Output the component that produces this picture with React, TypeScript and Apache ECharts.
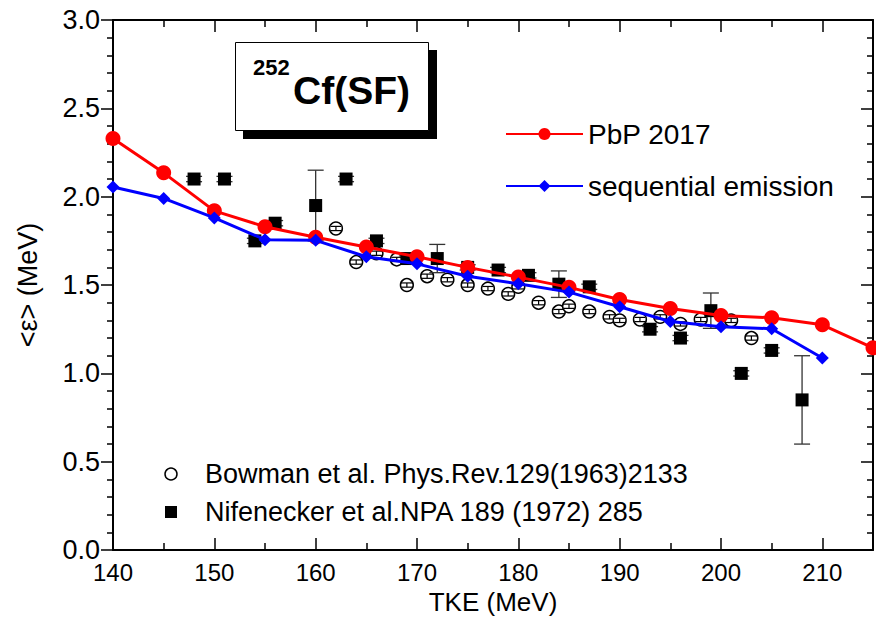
import React, { useEffect, useRef } from "react";
import * as echarts from "echarts";

// PbP 2017 (red circles)
const pbpX = [140, 145, 150, 155, 160, 165, 170, 175, 180, 185, 190, 195, 200, 205, 210, 215];
const pbpY = [2.33, 2.135, 1.92, 1.83, 1.77, 1.715, 1.66, 1.6, 1.545, 1.487, 1.418, 1.367, 1.328, 1.315, 1.275, 1.145];

// sequential emission (blue diamonds)
const seqX = [140, 145, 150, 155, 160, 165, 170, 175, 180, 185, 190, 195, 200, 205, 210];
const seqY = [2.055, 1.99, 1.88, 1.757, 1.753, 1.66, 1.62, 1.55, 1.507, 1.46, 1.377, 1.294, 1.264, 1.253, 1.087];

// Bowman et al. (open circles)
const bowX = [162, 164, 166, 168, 169, 171, 173, 175, 177, 179, 180, 182, 184, 185, 187, 189, 190, 192, 194, 196, 198, 201, 203];
const bowY = [1.82, 1.63, 1.68, 1.645, 1.5, 1.55, 1.53, 1.5, 1.48, 1.45, 1.49, 1.4, 1.35, 1.38, 1.35, 1.32, 1.3, 1.305, 1.32, 1.28, 1.305, 1.3, 1.2];
const bowErr = [0.012, 0.012, 0.012, 0.012, 0.012, 0.012, 0.012, 0.012, 0.012, 0.012, 0.012, 0.012, 0.012, 0.012, 0.012, 0.012, 0.012, 0.012, 0.012, 0.012, 0.012, 0.012, 0.012];

// Nifenecker et al. (filled squares)
const nifX = [148, 151, 154, 156, 160, 163, 166, 169, 172, 175, 178, 181, 184, 187, 193, 196, 199, 202, 205, 208];
const nifY = [2.1, 2.1, 1.75, 1.85, 1.95, 2.1, 1.75, 1.65, 1.65, 1.6, 1.585, 1.555, 1.505, 1.49, 1.25, 1.2, 1.355, 1.0, 1.13, 0.85];
const nifErr = [0.015, 0.015, 0.015, 0.015, 0.2, 0.015, 0.015, 0.015, 0.08, 0.015, 0.015, 0.015, 0.075, 0.015, 0.015, 0.015, 0.1, 0.015, 0.015, 0.25];

const seriesNames = ["PbP 2017", "sequential emission"];
const expNames = ["Bowman et al. Phys.Rev.129(1963)2133", "Nifenecker et al.NPA 189 (1972) 285"];
const xTitle = "TKE (MeV)";
const yTitle = "<ε> (MeV)";

const FONT = "'Liberation Sans', Arial, Helvetica, sans-serif";

export default function App() {
  const ref = useRef<HTMLDivElement>(null);

  useEffect(() => {
    if (!ref.current) return;
    const chart = echarts.init(ref.current, null, { renderer: "svg" });

    const pbpData = pbpX.map((x, i) => [x, pbpY[i]]);
    const seqData = seqX.map((x, i) => [x, seqY[i]]);
    const bowData = bowX.map((x, i) => [x, bowY[i], bowErr[i]]);
    const nifData = nifX.map((x, i) => [x, nifY[i], nifErr[i]]);

    const errBar = (api: any, x: number, y: number, e: number, capW: number, stroke: string, lw: number) => {
      const lo = api.coord([x, y - e]);
      const hi = api.coord([x, y + e]);
      return [
        { type: "line", shape: { x1: lo[0], y1: lo[1], x2: hi[0], y2: hi[1] }, style: { stroke, lineWidth: lw } },
        { type: "line", shape: { x1: lo[0] - capW / 2, y1: lo[1], x2: lo[0] + capW / 2, y2: lo[1] }, style: { stroke, lineWidth: lw } },
        { type: "line", shape: { x1: hi[0] - capW / 2, y1: hi[1], x2: hi[0] + capW / 2, y2: hi[1] }, style: { stroke, lineWidth: lw } },
      ];
    };

    const majorTick = { show: true, inside: true, length: 12, lineStyle: { color: "#000", width: 1.5 } };

    chart.setOption({
      animation: false,
      backgroundColor: "#fff",
      grid: { left: 113, right: 3, top: 20, bottom: 68, containLabel: false },
      xAxis: [
        {
          type: "value",
          min: 140,
          max: 215,
          interval: 10,
          position: "bottom",
          name: xTitle,
          nameLocation: "middle",
          nameGap: 36,
          nameTextStyle: { fontFamily: FONT, fontSize: 26, color: "#000" },
          axisLine: { show: true, onZero: false, lineStyle: { color: "#000", width: 2 } },
          axisTick: majorTick,
          minorTick: { show: true, splitNumber: 2, length: 7, lineStyle: { color: "#000", width: 1.5 } },
          axisLabel: { fontFamily: FONT, fontSize: 24, color: "#000", margin: 10, showMaxLabel: false },
          splitLine: { show: false },
          minorSplitLine: { show: false },
        },
        {
          type: "value",
          min: 140,
          max: 215,
          interval: 10,
          position: "top",
          axisLine: { show: true, onZero: false, lineStyle: { color: "#000", width: 2 } },
          axisTick: majorTick,
          minorTick: { show: true, splitNumber: 2, length: 7, lineStyle: { color: "#000", width: 1.5 } },
          axisLabel: { show: false },
          splitLine: { show: false },
        },
      ],
      yAxis: [
        {
          type: "value",
          min: 0,
          max: 3,
          interval: 0.5,
          position: "left",
          name: yTitle,
          nameLocation: "middle",
          nameGap: 72,
          nameRotate: 90,
          nameTextStyle: { fontFamily: FONT, fontSize: 27, color: "#000" },
          axisLine: { show: true, onZero: false, lineStyle: { color: "#000", width: 2 } },
          axisTick: { show: true, inside: false, length: 12, lineStyle: { color: "#000", width: 1.5 } },
          minorTick: { show: true, splitNumber: 5, length: 6, lineStyle: { color: "#000", width: 1.5 } },
          axisLabel: {
            fontFamily: FONT,
            fontSize: 27,
            color: "#000",
            margin: 13,
            formatter: (v: number) => v.toFixed(1),
          },
          splitLine: { show: false },
        },
        {
          type: "value",
          min: 0,
          max: 3,
          interval: 0.5,
          position: "right",
          axisLine: { show: true, onZero: false, lineStyle: { color: "#000", width: 2 } },
          axisTick: { show: true, inside: true, length: 12, lineStyle: { color: "#000", width: 1.5 } },
          minorTick: { show: true, splitNumber: 5, length: 6, lineStyle: { color: "#000", width: 1.5 } },
          axisLabel: { show: false },
          splitLine: { show: false },
        },
      ],
      legend: {
        show: true,
        orient: "vertical",
        left: 500,
        top: 115,
        itemWidth: 77,
        itemHeight: 15,
        itemGap: 24,
        data: seriesNames,
        textStyle: { fontFamily: FONT, fontSize: 28, color: "#000" },
      },
      series: [
        {
          name: expNames[0],
          type: "custom",
          xAxisIndex: 0,
          yAxisIndex: 0,
          data: bowData,
          encode: { x: 0, y: 1 },
          z: 1,
          renderItem: (params: any, api: any) => {
            const x = api.value(0);
            const y = api.value(1);
            const e = api.value(2);
            const c = api.coord([x, y]);
            return {
              type: "group",
              children: [
                { type: "circle", shape: { cx: c[0], cy: c[1], r: 6.4 }, style: { fill: "#fff", stroke: "#000", lineWidth: 1.5 } },
                ...errBar(api, x, y, e, 11, "#000", 1.2),
              ],
            };
          },
        },
        {
          name: expNames[1],
          type: "custom",
          xAxisIndex: 0,
          yAxisIndex: 0,
          data: nifData,
          encode: { x: 0, y: 1 },
          z: 2,
          renderItem: (params: any, api: any) => {
            const x = api.value(0);
            const y = api.value(1);
            const e = api.value(2);
            const c = api.coord([x, y]);
            const s = 13;
            return {
              type: "group",
              children: [
                ...errBar(api, x, y, e, 16, "#333", 1.3),
                { type: "rect", shape: { x: c[0] - s / 2, y: c[1] - s / 2, width: s, height: s }, style: { fill: "#000" } },
              ],
            };
          },
        },
        {
          name: seriesNames[0],
          type: "line",
          xAxisIndex: 0,
          yAxisIndex: 0,
          data: pbpData,
          z: 3,
          symbol: "circle",
          symbolSize: 15,
          showAllSymbol: true,
          clip: false,
          itemStyle: { color: "#ff0000" },
          lineStyle: { color: "#ff0000", width: 3 },
        },
        {
          name: seriesNames[1],
          type: "line",
          xAxisIndex: 0,
          yAxisIndex: 0,
          data: seqData,
          z: 4,
          symbol: "diamond",
          symbolSize: 13,
          showAllSymbol: true,
          clip: false,
          itemStyle: { color: "#0000ff" },
          lineStyle: { color: "#0000ff", width: 3 },
        },
      ],
      graphic: [
        // title box with shadow
        { type: "rect", left: 243, top: 50, shape: { width: 194, height: 89 }, style: { fill: "#000" }, z: 10 },
        { type: "rect", left: 235, top: 42, shape: { width: 193, height: 88 }, style: { fill: "#fff", stroke: "#000", lineWidth: 1 }, z: 11 },
        {
          type: "text",
          x: 253,
          y: 67,
          z: 12,
          style: { text: "252", font: `bold 22px ${FONT}`, fill: "#000", textVerticalAlign: "middle", textAlign: "left" },
        },
        {
          type: "text",
          x: 293,
          y: 90,
          z: 12,
          style: { text: "Cf(SF)", font: `bold 39px ${FONT}`, fill: "#000", textVerticalAlign: "middle", textAlign: "left" },
        },
        // bottom legend
        { type: "circle", shape: { cx: 171, cy: 474, r: 6 }, style: { fill: "#fff", stroke: "#000", lineWidth: 1.5 }, z: 10 },
        {
          type: "text",
          x: 205,
          y: 474,
          z: 10,
          style: { text: expNames[0], font: `27px ${FONT}`, fill: "#000", textVerticalAlign: "middle" },
        },
        { type: "rect", shape: { x: 165, y: 506, width: 12, height: 12 }, style: { fill: "#000" }, z: 10 },
        {
          type: "text",
          x: 205,
          y: 512,
          z: 10,
          style: { text: expNames[1], font: `27px ${FONT}`, fill: "#000", textVerticalAlign: "middle" },
        },
      ],
    });

    return () => chart.dispose();
  }, []);

  return <div ref={ref} style={{ position: "fixed", left: 0, top: 0, width: 876, height: 620, background: "#fff" }} />;
}
